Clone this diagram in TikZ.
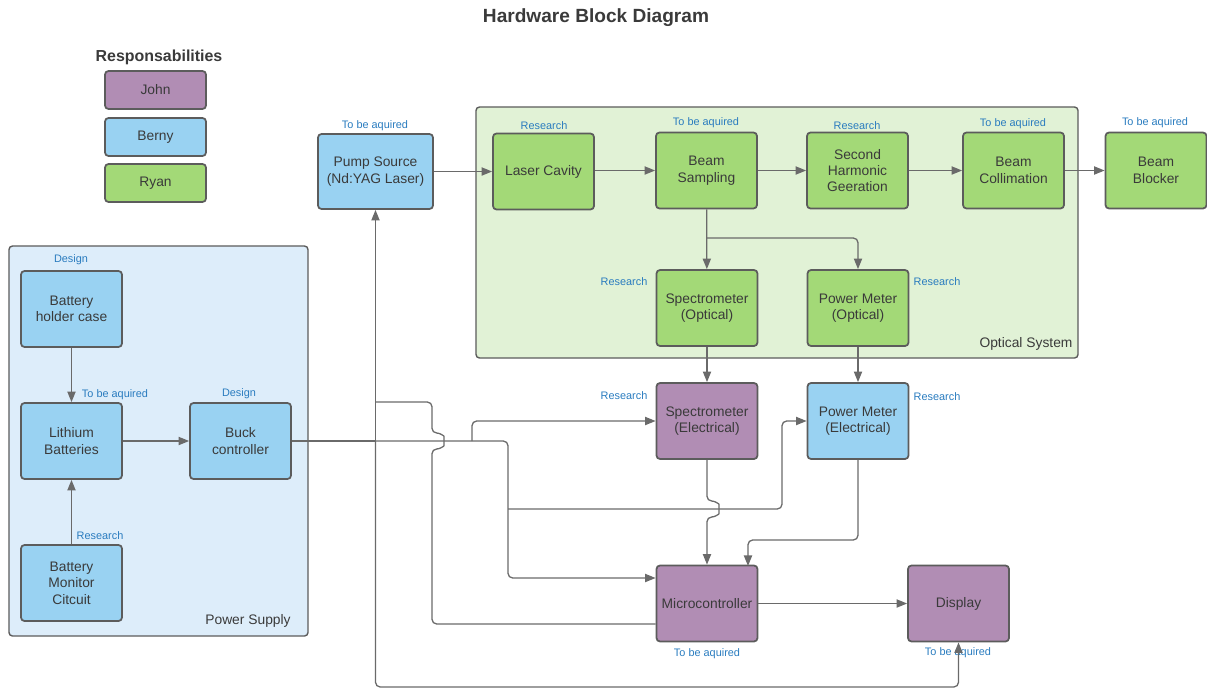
\documentclass[tikz,border=0pt]{standalone}
\usepackage{fontspec}
\setmainfont{Liberation Sans}
\usetikzlibrary{arrows.meta}
\definecolor{johncol}{HTML}{B18DB4}
\definecolor{bernycol}{HTML}{99D2F2}
\definecolor{ryancol}{HTML}{A3D977}
\definecolor{psbg}{HTML}{DDEDFA}
\definecolor{optbg}{HTML}{E1F2D6}
\definecolor{edgecol}{HTML}{5C5C5C}
\definecolor{wirecol}{HTML}{6A6A6A}
\definecolor{tagcol}{HTML}{2A7CBF}
\definecolor{txtcol}{HTML}{3A3A3A}
\begin{document}
\begin{tikzpicture}[x=0.03cm, y=-0.03cm,
  block/.style={rectangle, rounded corners=3pt, draw=edgecol, line width=1.5pt, fill=#1, minimum width=3.03cm, minimum height=2.28cm, inner sep=1pt, align=center, text=txtcol, font=\fontsize{11.8}{14}\selectfont},
  block/.default=bernycol,
  legend/.style={block=#1, minimum height=1.14cm},
  group/.style={rectangle, rounded corners=3pt, draw=edgecol, line width=1.2pt, fill=#1},
  tag/.style={text=tagcol, inner sep=0pt, font=\fontsize{9.3}{11}\selectfont},
  grouplabel/.style={text=txtcol, inner sep=0pt, font=\fontsize{11.8}{14}\selectfont},
  wire/.style={draw=wirecol, line width=1.1pt, rounded corners=4pt},
  arr/.style={wire, -{Triangle[length=9pt,width=7pt]}}]

\useasboundingbox (0,0) rectangle (1207,698);

\node [text=txtcol, font=\bfseries\fontsize{16.3}{18}\selectfont] (title) at (596,18) {Hardware Block Diagram};

% legend
\node [text=txtcol, font=\bfseries\fontsize{13.6}{15}\selectfont] (resp) at (159,57) {Responsabilities};
\node [legend=johncol] (john) at (155.5,90) {John};
\node [legend=bernycol] (berny) at (155.5,137) {Berny};
\node [legend=ryancol] (ryan) at (155.5,183) {Ryan};

% groups
\node [group=psbg, minimum width=8.97cm, minimum height=11.7cm] (power) at (158.5,441) {};
\node [grouplabel] (powerlabel) at (248,621) {Power Supply};
\node [group=optbg, minimum width=18.06cm, minimum height=7.53cm] (optical) at (777,232.5) {};
\node [grouplabel] (opticallabel) at (1026,344) {Optical System};

% power supply blocks
\node [block] (holder) at (71.5,309) {Battery\\holder case};
\node [block] (lithium) at (71.5,441) {Lithium\\Batteries};
\node [block] (monitor) at (71.5,583) {Battery\\Monitor\\Citcuit};
\node [block] (buck) at (240.5,441) {Buck\\controller};

% optical blocks
\node [block, minimum width=3.45cm, minimum height=2.25cm] (pump) at (375.5,171.5) {Pump Source\\(Nd:YAG Laser)};
\node [block=ryancol] (cavity) at (543.5,171.5) {Laser Cavity};
\node [block=ryancol] (sampling) at (706.5,170.5) {Beam\\Sampling};
\node [block=ryancol] (shg) at (857.5,170.5) {Second\\Harmonic\\Geeration};
\node [block=ryancol] (collim) at (1013.5,170.5) {Beam\\Collimation};
\node [block=ryancol] (blocker) at (1156,170.5) {Beam\\Blocker};
\node [block=ryancol] (specopt) at (707,308) {Spectrometer\\(Optical)};
\node [block=ryancol] (pmopt) at (858,308) {Power Meter\\(Optical)};

% electronics
\node [block=johncol] (specel) at (707,421) {Spectrometer\\(Electrical)};
\node [block] (pmel) at (858,421) {Power Meter\\(Electrical)};
\node [block=johncol] (micro) at (707,603.5) {Microcontroller};
\node [block=johncol] (display) at (958.5,603.5) {Display};

% tags
\node [tag] (t1) at (71,260) {Design};
\node [tag] (t2) at (115,395) {To be aquired};
\node [tag] (t3) at (100,536) {Research};
\node [tag] (t4) at (239,394) {Design};
\node [tag] (t5) at (375,126) {To be aquired};
\node [tag] (t6) at (544,126) {Research};
\node [tag] (t7) at (706,123) {To be aquired};
\node [tag] (t8) at (857,126) {Research};
\node [tag] (t9) at (1013,124) {To be aquired};
\node [tag] (t10) at (1155,123) {To be aquired};
\node [tag] (t11) at (624,282) {Research};
\node [tag] (t12) at (937,282) {Research};
\node [tag] (t13) at (624,396) {Research};
\node [tag] (t14) at (937,397) {Research};
\node [tag] (t15) at (707,654) {To be aquired};
\node [tag] (t16) at (958,653) {To be aquired};

% junctions
\coordinate (split) at (706.5,238);
\coordinate (J1) at (375.5,441);
\coordinate (J2) at (472,441);
\coordinate (J3) at (508,441);
\coordinate (J4) at (508,509);
\coordinate (J5) at (375.5,402);
\coordinate (mcin) at (748,566);

% power supply
\draw[arr] (holder) -- (lithium);
\draw[arr] (monitor) -- (lithium);
\draw[arr] (lithium) -- (buck);

% optical path
\draw[arr] (pump) -- (cavity);
\draw[arr] (cavity.east |- sampling) -- (sampling);
\draw[arr] (sampling) -- (shg);
\draw[arr] (shg) -- (collim);
\draw[arr] (collim) -- (blocker);
\draw[arr] (sampling) -- (specopt);
\draw[arr] (split) -| (pmopt);
\draw[arr] (specopt) -- (specel);
\draw[arr] (pmopt) -- (pmel);

% power distribution
\draw[wire] (buck) -- (J1);
\draw[arr] (J1) -- (pump);
\draw[arr] (J1) -- (375.5,687) -| (display.south);
\draw[wire] (J5) -- (432,402) -- (432,433) .. controls (440,433) and (444,436) .. (444,441) .. controls (444,446) and (440,449) .. (432,449) -- (432,624) -- (micro.west |- 0,624);
\draw[arr] (J1) -- (J3) -- (508,578) -- (micro.west |- 0,578);
\draw[arr] (J2) -- (472,421) -- (specel);
\draw[arr] (J4) -- (782,509) -- (782,421) -- (pmel);

% signals
\draw[arr] (specel) -- (707,501) .. controls (715,501) and (719,504) .. (719,509) .. controls (719,514) and (715,517) .. (707,517) -- (micro);
\draw[arr] (pmel) |- (748,540) -- (mcin);
\draw[arr] (micro) -- (display);

\end{tikzpicture}
\end{document}
